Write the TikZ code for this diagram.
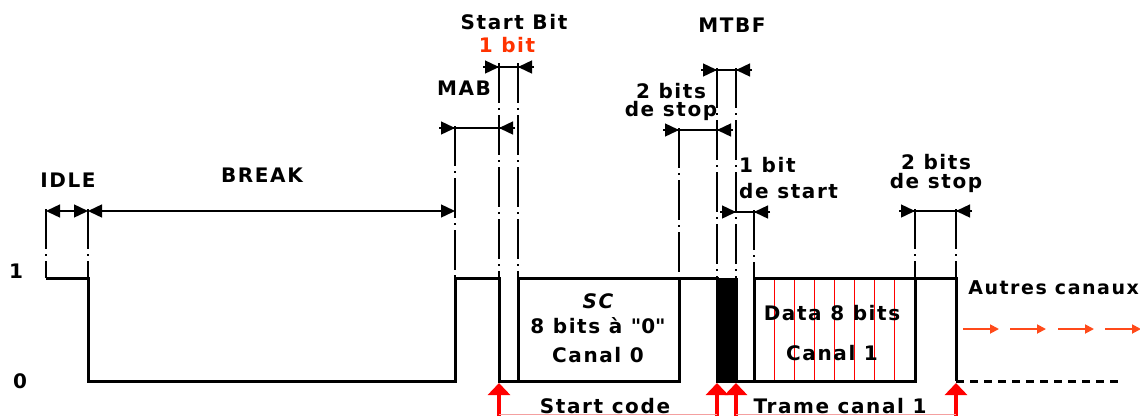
\documentclass[tikz,border=0pt]{standalone}
\usepackage{fontspec}
\setmainfont{DejaVu Sans}[LetterSpace=8]
\usetikzlibrary{arrows.meta,positioning,calc}
\definecolor{pulsered}{HTML}{FF0000}
\definecolor{flowred}{HTML}{FF4A1A}
\definecolor{bitred}{HTML}{FF3300}
\definecolor{softred}{HTML}{F4A0A0}

\newcommand\dimout[3]{%
  \draw[dimline] ($(#1 |- 0,#3)+(-16,0)$) -- ($(#2 |- 0,#3)+(16,0)$);
  \draw[dimtip] ($(#1 |- 0,#3)+(-16,0)$) -- (#1 |- 0,#3);
  \draw[dimtip] ($(#2 |- 0,#3)+(16,0)$) -- (#2 |- 0,#3);
}

\begin{document}
\begin{tikzpicture}[x=1pt,y=-1pt,
  signal/.style={line width=3pt, line join=miter},
  idleline/.style={line width=3pt, dash pattern=on 8pt off 6pt},
  guide/.style={line width=1.4pt, dash pattern=on 40pt off 5pt on 2pt off 5pt},
  dimline/.style={line width=1.4pt},
  dimtip/.style={line width=1.4pt, -{Triangle[length=14pt,width=13pt]}},
  dimin/.style={line width=1.4pt, {Triangle[length=14pt,width=13pt]}-{Triangle[length=14pt,width=13pt]}},
  lbl/.style={font=\fontsize{20}{19}\selectfont\bfseries, inner sep=0pt, align=center},
  bitsep/.style={pulsered, line width=1pt},
  marker/.style={pulsered, line width=4pt, -{Triangle[length=12pt,width=22pt]}},
  flow/.style={flowred, line width=1.8pt, -{Triangle[length=9pt,width=9pt]}}]
\useasboundingbox (0,0) rectangle (1140,416);

\coordinate (idle) at (46,278);
\coordinate (brk) at (88,278);
\coordinate (mab) at (455,278);
\coordinate (sb) at (499,278);
\coordinate (sc) at (518,278);
\coordinate (scend) at (679,278);
\coordinate (mtbf) at (717,278);
\coordinate (stb) at (736,278);
\coordinate (data) at (754,278);
\coordinate (stop) at (915,278);
\coordinate (next) at (956,278);
\coordinate (tail) at (1122,381);

\foreach \i in {1,...,7}
  \draw[bitsep] ($(data)+(\i*20.1,0)$) -- ++(0,103);

\fill (mtbf) rectangle (stb |- tail);
\draw[signal] (idle) -- (brk) -- (brk |- tail) -- (mab |- tail) -- (mab) -- (sb) -- (sb |- tail) -- (scend |- tail) -- (scend);
\draw[signal] (sc |- tail) -- (sc) -- (mtbf) -- (mtbf |- tail) -- (stop |- tail) -- (stop);
\draw[signal] (stb) -- (stb |- tail);
\draw[signal] (data |- tail) -- (data) -- (next) -- (next |- tail);
\draw[idleline] (next |- tail) -- (tail);

\foreach \c/\y in {idle/209,brk/209,mab/126,sb/63,sc/63,scend/128,mtbf/68,stb/68,data/210,stop/209,next/209}
  \draw[guide] (\c |- 0,\y) -- (\c);

\draw[dimin] (idle |- 0,211) -- (brk |- 0,211);
\draw[dimin] (brk |- 0,211) -- (mab |- 0,211);
\dimout{mab}{sb}{128}
\dimout{sb}{sc}{67}
\dimout{scend}{mtbf}{130}
\dimout{mtbf}{stb}{70}
\dimout{stb}{data}{212}
\dimout{stop}{next}{211}

\foreach \c in {sb,mtbf,stb,next}
  \draw[marker] (\c |- 0,416) -- (\c |- 0,383);
\draw[softred, line width=1pt] (sb |- 0,414.5) -- (mtbf |- 0,414.5);
\draw[softred, line width=1pt] (stb |- 0,414.5) -- (next |- 0,414.5);

\foreach \x in {963,1010,1058,1105}
  \draw[flow] (\x,329) -- ++(36,0);

\node[lbl] (lvlone) at (16,271) {1};
\node[lbl] (lvlzero) at (20,381) {0};
\node[lbl] (idlelbl) at (68,180) {IDLE};
\node[lbl] (breaklbl) at (262,175) {BREAK};
\node[lbl] (mablbl) at (464,88) {MAB};
\node[lbl] (startbit) at (514,22) {Start Bit};
\node[lbl, text=bitred] (onebit) at (507,45) {1 bit};
\node[lbl] (mtbflbl) at (732,25) {MTBF};
\node[lbl, anchor=north] (stopone) at (671,83) {2 bits\\[-1pt]de stop};
\node[lbl, anchor=north west, align=left] (startone) at (739,157) {1 bit\\[7pt]de start};
\node[lbl, anchor=north] (stoptwo) at (936,154) {2 bits\\de stop};
\node[lbl] (sclbl) at (598,328) {{\itshape SC}\\[6pt]8 bits à \textquotedbl 0\textquotedbl\\[10pt]Canal 0};
\node[lbl] (datalbl) at (832,333) {Data 8 bits\\[21pt]Canal 1};
\node[lbl, anchor=east, font=\fontsize{19}{19}\selectfont\bfseries] (otherlbl) at (1139,288) {Autres canaux};
\node[lbl] (codelbl) at (605,406) {Start code};
\node[lbl] (tramelbl) at (840,406) {Trame canal 1};
\end{tikzpicture}
\end{document}
